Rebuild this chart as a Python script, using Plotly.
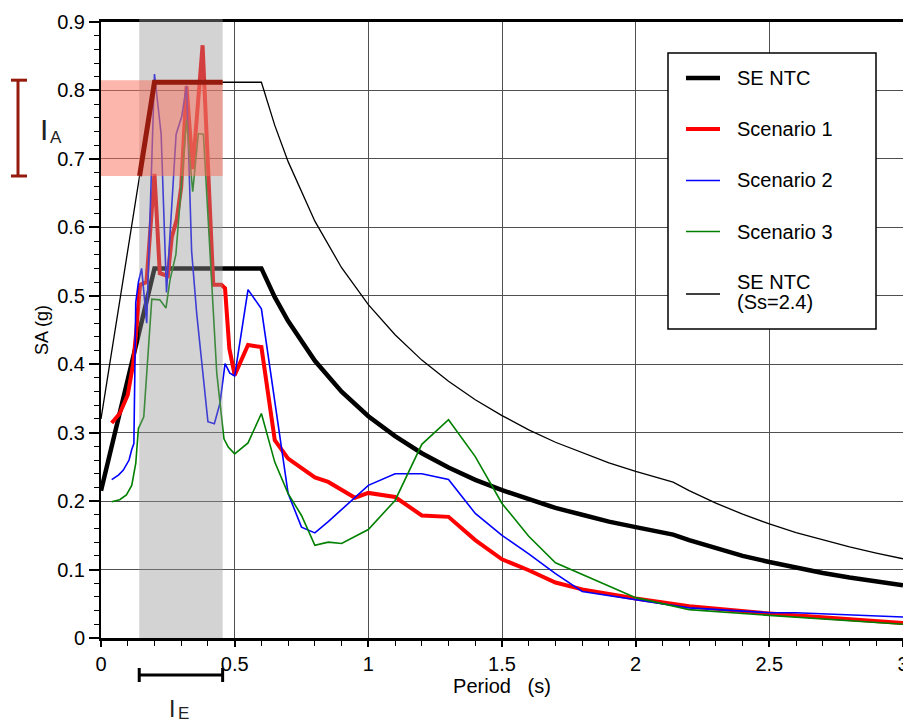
import numpy as np
import plotly.graph_objects as go

# ---------------- data ----------------
period_ntc = [0.0, 0.2, 0.6, 0.65, 0.7, 0.8, 0.9, 1.0, 1.1, 1.2, 1.3, 1.4, 1.5, 1.6, 1.7,
              1.8, 1.9, 2.0, 2.14, 2.2, 2.3, 2.4, 2.5, 2.6, 2.7, 2.8, 2.9, 3.0]
sa_se_ntc = [0.215, 0.54, 0.54, 0.498, 0.463, 0.405, 0.36, 0.324, 0.295, 0.27, 0.249, 0.231,
             0.216, 0.2025, 0.19, 0.18, 0.17, 0.162, 0.151, 0.143, 0.131, 0.120, 0.111,
             0.1026, 0.095, 0.0884, 0.0824, 0.077]
sa_se_ntc_ss24 = [0.32, 0.812, 0.812, 0.749, 0.696, 0.609, 0.541, 0.487, 0.443, 0.406, 0.375,
                  0.348, 0.325, 0.304, 0.286, 0.271, 0.256, 0.2435, 0.2276, 0.2153, 0.197,
                  0.181, 0.1667, 0.154, 0.143, 0.133, 0.124, 0.1158]

period_s1 = [0.04, 0.07, 0.10, 0.12, 0.13, 0.146, 0.17, 0.20, 0.22, 0.25, 0.265, 0.283, 0.30,
             0.32, 0.343, 0.38, 0.42, 0.45, 0.464, 0.48, 0.50, 0.55, 0.60, 0.65, 0.70, 0.80,
             0.85, 0.95, 1.0, 1.1, 1.2, 1.3, 1.4, 1.5, 1.6, 1.7, 1.8, 2.0, 2.2, 2.5, 3.0]
sa_s1 = [0.314, 0.328, 0.355, 0.40, 0.44, 0.516, 0.52, 0.678, 0.533, 0.529, 0.586, 0.611, 0.659,
         0.806, 0.685, 0.866, 0.516, 0.516, 0.511, 0.423, 0.384, 0.428, 0.425, 0.289, 0.262,
         0.2345, 0.228, 0.205, 0.212, 0.206, 0.179, 0.177, 0.143, 0.115, 0.099, 0.081, 0.071,
         0.0576, 0.0463, 0.0357, 0.022]

period_s2 = [0.04, 0.065, 0.083, 0.105, 0.115, 0.123, 0.13, 0.14, 0.152, 0.171, 0.20, 0.225,
             0.245, 0.281, 0.302, 0.32, 0.339, 0.358, 0.40, 0.424, 0.445, 0.464, 0.482, 0.50,
             0.55, 0.60, 0.70, 0.75, 0.80, 0.85, 1.0, 1.1, 1.2, 1.3, 1.4, 1.5, 1.6, 1.7, 1.8,
             2.0, 2.2, 2.5, 2.6, 3.0]
sa_s2 = [0.2315, 0.238, 0.245, 0.26, 0.2755, 0.284, 0.49, 0.52, 0.54, 0.46, 0.824, 0.736, 0.505,
         0.736, 0.762, 0.807, 0.565, 0.474, 0.316, 0.313, 0.343, 0.401, 0.387, 0.383, 0.509,
         0.481, 0.211, 0.162, 0.1535, 0.17, 0.223, 0.24, 0.24, 0.2315, 0.182, 0.15, 0.123,
         0.094, 0.068, 0.056, 0.044, 0.037, 0.037, 0.0307]

period_s3 = [0.04, 0.07, 0.095, 0.115, 0.13, 0.14, 0.16, 0.19, 0.22, 0.243, 0.258, 0.28, 0.32,
             0.343, 0.364, 0.383, 0.433, 0.46, 0.476, 0.50, 0.55, 0.60, 0.65, 0.70, 0.75, 0.80,
             0.85, 0.90, 1.0, 1.1, 1.2, 1.3, 1.4, 1.5, 1.6, 1.7, 2.0, 2.2, 2.5, 3.0]
sa_s3 = [0.199, 0.202, 0.209, 0.223, 0.255, 0.306, 0.323, 0.495, 0.494, 0.482, 0.523, 0.56,
         0.757, 0.652, 0.737, 0.736, 0.387, 0.291, 0.279, 0.269, 0.285, 0.328, 0.257, 0.211,
         0.179, 0.1355, 0.14, 0.138, 0.1585, 0.201, 0.283, 0.319, 0.265, 0.1965, 0.1487, 0.11,
         0.059, 0.0415, 0.033, 0.02]

# highlighted ranges
IE_RANGE = [0.143, 0.455]   # period range
IA_RANGE = [0.675, 0.815]   # SA range

x_ticks = [0, 0.5, 1, 1.5, 2, 2.5, 3]
y_ticks = [0, 0.1, 0.2, 0.3, 0.4, 0.5, 0.6, 0.7, 0.8, 0.9]

# ---------------- layout geometry (page pixels) ----------------
OFF = 8                      # page body margin
W, H = 911 - OFF, 722 - OFF  # figure size
PL, PR, PT, PB = 101, 903, 22, 638   # plot area on the page
ML, MT = PL - OFF, PT - OFF
MR = OFF + W - PR
MB = OFF + H - PB
PW = PR - PL
PH = PB - PT


def px(x):
    return (x - PL) / PW


def py(y):
    return (PB - y) / PH


FONT = "Liberation Sans, Arial, Helvetica, sans-serif"
DARK_RED = "#961A0E"

series = [
    ("SE NTC", period_ntc, sa_se_ntc, "black", 4.5),
    ("SE NTC (Ss=2.4)", period_ntc, sa_se_ntc_ss24, "black", 1.3),
    ("Scenario 1", period_s1, sa_s1, "#ff0000", 4),
    ("Scenario 2", period_s2, sa_s2, "#0000ff", 1.6),
    ("Scenario 3", period_s3, sa_s3, "#008000", 1.6),
]

fig = go.Figure()
for name, xs, ys, col, w in series:
    fig.add_trace(go.Scatter(x=xs, y=ys, mode="lines", name=name,
                             line=dict(color=col, width=w), showlegend=False))

shapes = []
# grey period band (over the curves, translucent)
shapes.append(dict(type="rect", xref="x", yref="paper", x0=IE_RANGE[0], x1=IE_RANGE[1],
                   y0=0, y1=1.005, fillcolor="rgba(150,150,150,0.42)",
                   line=dict(width=0), layer="above"))
# pink SA band
shapes.append(dict(type="rect", xref="x", yref="y", x0=0, x1=IE_RANGE[1],
                   y0=IA_RANGE[0], y1=IA_RANGE[1], fillcolor="rgba(250,110,90,0.5)",
                   line=dict(width=0), layer="above"))

# highlighted part of SE NTC (Ss=2.4) inside the pink band
pn = np.array(period_ntc)
sn = np.array(sa_se_ntc_ss24)
x_start = float(np.interp(IA_RANGE[0], sn[:2], pn[:2]))
pts = [(x_start, IA_RANGE[0])]
for xv, yv in zip(pn, sn):
    if x_start < xv < IE_RANGE[1]:
        pts.append((float(xv), float(yv)))
pts.append((IE_RANGE[1], float(np.interp(IE_RANGE[1], pn, sn))))
path = "M " + " L ".join(f"{a},{b}" for a, b in pts)
shapes.append(dict(type="path", xref="x", yref="y", path=path,
                   line=dict(color=DARK_RED, width=5), layer="above"))

# I_A bracket (left of the axis)
bx = px(18)
shapes.append(dict(type="line", xref="paper", yref="y", x0=bx, x1=bx,
                   y0=IA_RANGE[0], y1=IA_RANGE[1], line=dict(color=DARK_RED, width=3)))
for yv in IA_RANGE:
    shapes.append(dict(type="line", xref="paper", yref="y", x0=px(11), x1=px(27),
                       y0=yv, y1=yv, line=dict(color=DARK_RED, width=3)))
# I_E bracket (below the axis)
by = py(675)
shapes.append(dict(type="line", xref="x", yref="paper", x0=IE_RANGE[0], x1=IE_RANGE[1],
                   y0=by, y1=by, line=dict(color="black", width=3)))
for xv in IE_RANGE:
    shapes.append(dict(type="line", xref="x", yref="paper", x0=xv, x1=xv,
                       y0=py(668), y1=py(682), line=dict(color="black", width=3)))

# manual legend box
shapes.append(dict(type="rect", xref="paper", yref="paper", x0=px(668), x1=px(876),
                   y0=py(329), y1=py(53), fillcolor="white",
                   line=dict(color="black", width=1.5), layer="above"))

annotations = []
legend_rows = [
    (["SE NTC"], "black", 4.5, 78),
    (["Scenario 1"], "#ff0000", 4, 129),
    (["Scenario 2"], "#0000ff", 1.6, 180.5),
    (["Scenario 3"], "#008000", 1.6, 231.5),
    (["SE NTC", "(Ss=2.4)"], "black", 1.3, 292),
]
for labels, col, w, yc in legend_rows:
    ly = yc + (2 if len(labels) > 1 else 0)
    shapes.append(dict(type="line", xref="paper", yref="paper", x0=px(686), x1=px(720),
                       y0=py(ly), y1=py(ly), line=dict(color=col, width=w), layer="above"))
    n = len(labels)
    for i, lab in enumerate(labels):
        yy = yc + (i - (n - 1) / 2) * 20
        annotations.append(dict(text=lab, xref="paper", yref="paper", x=px(735), y=py(yy),
                                xanchor="left", yanchor="middle", showarrow=False,
                                font=dict(family=FONT, size=20, color="black")))

# I_A and I_E labels
annotations.append(dict(text="I", xref="paper", yref="paper", x=px(44), y=py(129),
                        xanchor="center", yanchor="middle", showarrow=False,
                        font=dict(family=FONT, size=30, color="#222")))
annotations.append(dict(text="A", xref="paper", yref="paper", x=px(48), y=py(137),
                        xanchor="left", yanchor="middle", showarrow=False,
                        font=dict(family=FONT, size=17, color="#222")))
annotations.append(dict(text="I", xref="paper", yref="paper", x=px(172), y=py(709),
                        xanchor="center", yanchor="middle", showarrow=False,
                        font=dict(family=FONT, size=23, color="#222")))
annotations.append(dict(text="E", xref="paper", yref="paper", x=px(176), y=py(713),
                        xanchor="left", yanchor="middle", showarrow=False,
                        font=dict(family=FONT, size=17, color="#222")))

fig.update_layout(
    width=W, height=H,
    margin=dict(l=ML, r=MR, t=MT, b=MB, autoexpand=False),
    paper_bgcolor="white", plot_bgcolor="white",
    font=dict(family=FONT, color="black"),
    showlegend=False,
    shapes=shapes,
    annotations=annotations,
)
fig.update_xaxes(
    range=[0, 3], tickvals=x_ticks, ticktext=[f"{v:g}" for v in x_ticks],
    ticks="outside", ticklen=6, tickwidth=1.5, tickcolor="black",
    minor=dict(dtick=0.1, tick0=0, ticks="outside", ticklen=5, tickwidth=1.2,
               tickcolor="black", showgrid=False),
    showgrid=True, gridcolor="rgb(80,80,80)", gridwidth=1.3,
    showline=True, linecolor="black", linewidth=2.5, mirror=True, zeroline=False,
    tickfont=dict(family=FONT, size=20, color="black"), automargin=False,
    title=dict(text="Period\u00a0\u00a0\u00a0(s)", standoff=0,
               font=dict(family=FONT, size=20, color="black")),
)
fig.update_yaxes(
    range=[0, 0.9], tickvals=y_ticks, ticktext=[f"{v:g}" for v in y_ticks],
    ticks="outside", ticklen=10, tickwidth=1.5, tickcolor="black",
    minor=dict(dtick=0.02, tick0=0, ticks="outside", ticklen=5, tickwidth=1.2,
               tickcolor="black", showgrid=False),
    showgrid=True, gridcolor="rgb(80,80,80)", gridwidth=1.3,
    showline=True, linecolor="black", linewidth=2, mirror=True, zeroline=False,
    tickfont=dict(family=FONT, size=20, color="black"), automargin=False,
    title=dict(text="SA (g)", standoff=4, font=dict(family=FONT, size=18, color="black")),
)

fig.write_html("out.html")
